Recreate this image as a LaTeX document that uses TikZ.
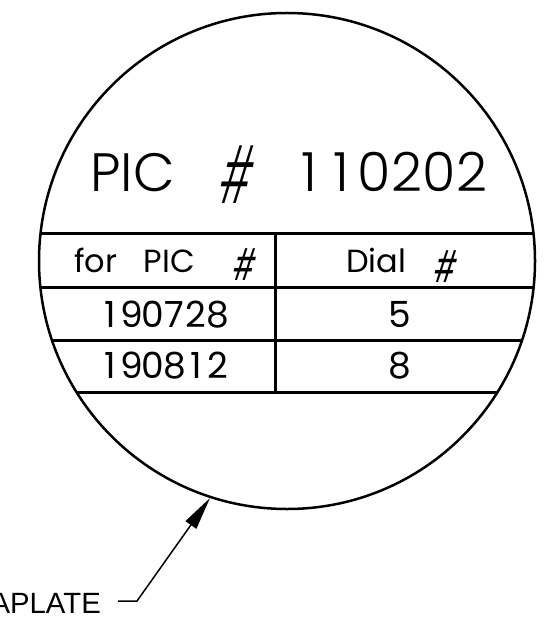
\documentclass[tikz,border=0pt]{standalone}
\usepackage{fontspec}
\setmainfont{Poppins}
\newfontfamily\titlefont{Poppins Light}
\newfontfamily\hashfont{Poppins}[FakeSlant=0.2, FakeStretch=0.6]
\newfontfamily\hashlight{Poppins Light}[FakeSlant=0.2, FakeStretch=0.5]
\newfontfamily\labelfont{Liberation Sans}
\usetikzlibrary{arrows.meta}
\newlength\dgw
\newcommand\dg[1]{\makebox[\dgw]{#1}}
\begin{document}
\begin{tikzpicture}[x=1pt,y=-1pt,
  txt/.style={inner sep=0pt, text=black},
  rule/.style={line width=3pt, line cap=butt},
  leader/.style={line width=1.5pt, -{Triangle[length=33pt,width=13pt]}},
]
\useasboundingbox (0,0) rectangle (547,620);
% plate circle
\node[circle, draw, line width=2.5pt, minimum size=496pt, inner sep=0pt] (plate) at (287,261) {};
% table rules
\begin{scope}
  \clip (287,261) circle (248pt);
  \draw[rule] (0,233) -- (547,233);
  \draw[rule] (0,287) -- (547,287);
  \draw[rule] (0,340) -- (547,340);
  \draw[rule] (0,392) -- (547,392);
\end{scope}
\draw[rule] (275,233) -- (275,392);
% title
\node[txt, anchor=base west, font=\titlefont\fontsize{54pt}{54pt}\selectfont] (t1) at (90,192) {PIC};
\node[txt, anchor=center, font=\hashlight\fontsize{78pt}{78pt}\selectfont] (t2) at (232,175) {\#};
\node[txt, anchor=base east, font=\titlefont\fontsize{54pt}{54pt}\selectfont] (t3) at (488,192) {\setlength\dgw{32.5pt}\dg1\dg1\dg0\dg2\dg0\dg2};
% header
\node[txt, anchor=base west, font=\fontsize{32pt}{32pt}\selectfont] (h1) at (74,272) {for\hspace{18pt} PIC};
\node[txt, anchor=center, font=\hashfont\fontsize{43pt}{43pt}\selectfont] (h2) at (242.5,265) {\#};
\node[txt, anchor=base west, font=\fontsize{32pt}{32pt}\selectfont] (h3) at (346,272) {Dial};
\node[txt, anchor=center, font=\hashfont\fontsize{43pt}{43pt}\selectfont] (h4) at (443,267) {\#};
% rows
\node[txt, anchor=base, font=\fontsize{36pt}{36pt}\selectfont] (r1a) at (164,327) {\setlength\dgw{21.5pt}\dg1\dg9\dg0\dg7\dg2\dg8};
\node[txt, anchor=base, font=\fontsize{36pt}{36pt}\selectfont] (r1b) at (400,327) {5};
\node[txt, anchor=base, font=\fontsize{36pt}{36pt}\selectfont] (r2a) at (164,378) {\setlength\dgw{21.5pt}\dg1\dg9\dg0\dg8\dg1\dg2};
\node[txt, anchor=base, font=\fontsize{36pt}{36pt}\selectfont] (r2b) at (400,378) {8};
% leader label
\node[txt, anchor=base east, font=\labelfont\fontsize{29.3pt}{29.3pt}\selectfont] (lbl) at (101,613) {APLATE};
\coordinate (lend) at (118,601);
\coordinate (knee) at (137,601);
\draw[leader] (lend) -- (knee) -- (plate.252.4);
\end{tikzpicture}
\end{document}
